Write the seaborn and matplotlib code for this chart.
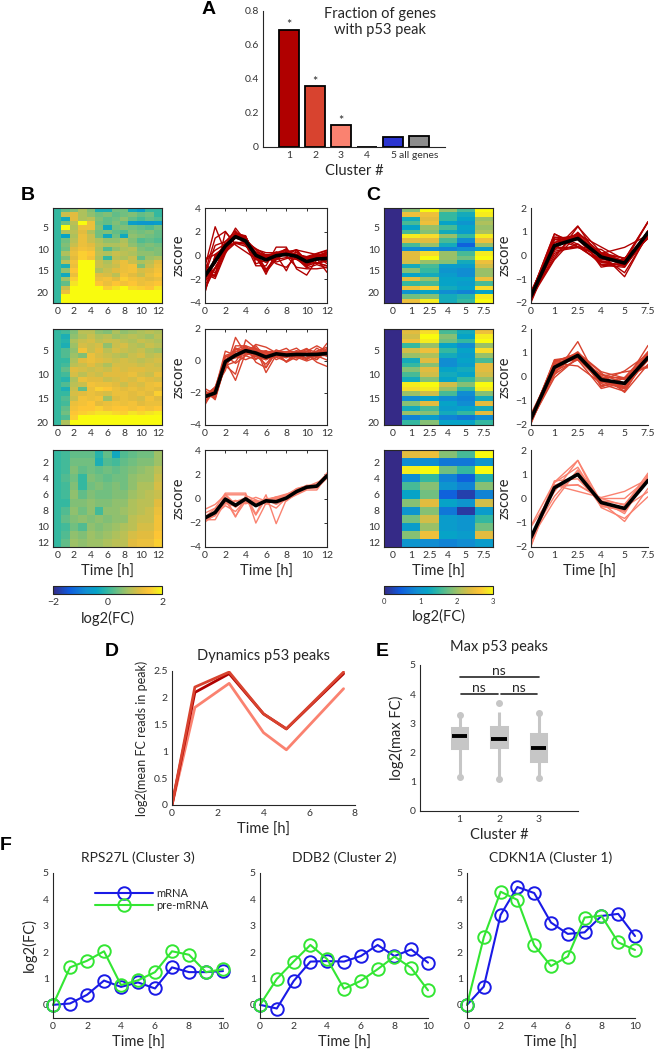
import numpy as np
import pandas as pd
import matplotlib
matplotlib.use("Agg")
import matplotlib.pyplot as plt
import seaborn as sns
from matplotlib.colors import LinearSegmentedColormap

# ---------------- data ----------------
# A: fraction of genes with p53 peak
frac_labels = ["1", "2", "3", "4", "5", "all genes"]
frac_values = [0.69, 0.36, 0.13, 0.0, 0.06, 0.065]
frac_signif = [True, True, True, False, False, False]

# B: log2(FC) per gene, time 0..12 h
b_times = [0, 1, 2, 3, 4, 5, 6, 7, 8, 9, 10, 11, 12]
b1_fc = [
    [0.0, 0.3, 0.5, 0.8, 0.5, -0.2, -0.2, 0.4, 0.4, -0.3, -0.5, 0.0, 0.0],
    [0.0, 1.0, 1.2, 0.8, 0.6, 0.4, 0.5, 0.3, 0.4, 0.5, 0.3, 0.4, 0.0],
    [0.0, -0.3, 1.2, 0.8, 0.9, 0.5, 0.3, 0.4, 0.6, 0.3, 0.1, 0.3, 0.2],
    [0.0, 0.4, 0.9, 2.2, 1.3, 0.4, 0.3, 0.5, 0.3, -0.5, -0.6, -0.6, -0.5],
    [0.0, 2.2, 0.8, 1.3, 1.3, 0.5, -0.3, 0.4, 0.5, 0.4, 0.3, 0.2, 0.4],
    [0.0, 0.8, 0.9, 1.2, 0.8, 0.4, 0.5, 0.3, 0.2, 0.5, 0.4, 0.5, 0.3],
    [0.0, -0.4, 0.8, 1.3, 1.0, 0.4, -0.3, 0.4, -0.3, 0.6, 0.5, 0.4, 0.3],
    [0.0, 0.4, 0.9, 1.3, 1.0, 0.8, 0.6, 0.6, 0.8, 0.5, 0.2, 0.3, 0.2],
    [0.0, 0.5, 1.0, 1.3, 1.2, 0.9, 0.8, 0.8, 0.9, 0.6, 0.4, 0.5, 0.4],
    [0.0, 0.4, 1.2, 1.4, 1.3, 0.8, 0.2, 0.6, 0.8, 0.9, 0.5, 0.4, 0.5],
    [0.0, 0.8, 1.3, 1.6, 1.5, 0.9, 0.8, 1.0, 0.9, 0.8, 0.6, 0.6, 0.5],
    [0.0, 0.5, 1.2, 1.6, 1.4, 0.8, 0.0, 0.9, 0.8, 1.0, 0.3, 0.7, 0.8],
    [0.0, 0.9, 1.4, 2.2, 2.0, 1.0, 0.8, 1.1, 1.3, 1.0, 0.8, 0.9, 1.2],
    [0.0, -0.2, 1.3, 2.3, 2.2, 1.0, 0.9, 1.0, 1.3, 1.4, 0.5, 1.0, 1.3],
    [0.0, 0.6, 1.5, 2.4, 2.3, 0.8, 1.0, 1.2, 1.3, 1.4, 1.1, 1.2, 1.4],
    [0.0, -0.3, 1.3, 2.5, 2.4, 1.2, 1.1, 0.9, 1.4, 1.2, 1.0, 1.3, 1.5],
    [0.0, 0.7, 1.6, 2.5, 2.3, 1.3, 1.4, 1.2, 1.6, 1.4, 1.3, 1.2, 1.3],
    [0.0, 0.3, 1.8, 2.6, 2.5, 1.5, 1.3, 1.5, 1.4, 1.5, 1.3, 1.4, 1.5],
    [0.0, 1.0, 2.2, 2.8, 2.6, 2.1, 1.6, 1.8, 2.1, 1.7, 1.6, 1.5, 1.8],
    [0.0, 1.3, 2.4, 2.9, 2.8, 2.3, 2.1, 2.2, 2.2, 2.1, 2.0, 2.2, 2.4],
    [0.0, 2.3, 2.8, 3.1, 3.0, 2.5, 2.3, 2.3, 2.4, 2.3, 2.2, 2.3, 2.4],
    [0.0, 2.4, 3.0, 3.2, 3.0, 2.5, 2.4, 2.5, 2.5, 2.4, 2.3, 2.4, 2.6],
]
b2_fc = [
    [0.0, 0.1, 0.5, 0.9, 0.9, 0.6, 0.5, 0.8, 0.6, 0.7, 0.8, 0.9, 0.8],
    [0.0, -0.2, 0.6, 0.8, 1.0, 0.8, 0.9, 0.7, 0.8, 0.9, 0.8, 0.7, 0.9],
    [0.0, -0.1, 0.8, 1.0, 1.1, 0.9, 1.0, 1.0, 0.9, 0.8, 1.0, 0.9, 0.8],
    [0.0, -0.2, 0.7, 1.1, 1.0, 1.1, 0.6, 1.0, 1.1, 0.9, 0.8, 1.0, 0.9],
    [0.0, 0.2, 0.6, 1.4, 1.0, 1.2, 0.9, 1.1, 1.0, 0.9, 1.0, 0.8, 0.7],
    [0.0, 0.2, 0.7, 0.5, 1.3, 1.1, 1.0, 0.9, 0.8, 1.0, 1.1, 0.9, 1.0],
    [0.0, 0.0, 0.8, 1.2, 1.3, 1.2, 1.1, 1.0, 1.1, 1.0, 0.9, 1.0, 1.1],
    [0.0, 0.1, 0.9, 1.0, 1.2, 1.0, 0.8, 1.1, 1.1, 1.1, 1.0, 1.1, 1.0],
    [0.0, 0.3, 1.2, 1.1, 1.0, 1.1, 1.0, 1.2, 1.1, 1.2, 1.2, 1.1, 1.1],
    [0.0, 0.1, 1.1, 0.9, 1.1, 1.0, 1.2, 1.2, 1.2, 1.3, 1.1, 1.0, 1.3],
    [0.0, -0.1, 0.8, 1.3, 1.2, 1.2, 1.0, 1.1, 1.2, 1.1, 1.3, 1.2, 1.1],
    [0.0, 0.2, 0.9, 1.0, 1.4, 1.3, 1.3, 1.2, 1.0, 1.2, 1.1, 1.3, 1.4],
    [0.0, -0.2, 1.0, 0.3, 1.3, 1.6, 1.5, 1.3, 1.2, 1.3, 1.2, 1.3, 1.2],
    [0.0, 0.0, 1.1, 1.2, 1.3, 1.2, 1.1, 1.3, 1.3, 1.2, 1.3, 1.2, 1.6],
    [0.0, 0.2, 1.0, 1.4, 1.3, 1.4, 0.7, 1.2, 1.3, 1.2, 1.1, 1.4, 1.2],
    [0.0, 0.1, 1.3, 1.4, 1.5, 1.2, 1.3, 1.4, 1.3, 1.4, 1.2, 1.3, 1.3],
    [0.0, 0.3, 1.4, 1.5, 1.5, 1.6, 1.4, 1.5, 1.5, 1.4, 1.5, 1.4, 1.5],
    [0.0, 0.4, 1.5, 1.6, 1.7, 1.8, 1.8, 1.7, 1.6, 1.8, 1.7, 1.8, 1.9],
    [0.0, 0.2, 1.6, 2.0, 2.2, 2.1, 2.0, 2.1, 2.0, 2.1, 2.2, 2.1, 2.2],
    [0.0, 0.8, 2.2, 2.3, 2.4, 2.2, 2.3, 2.2, 2.3, 2.2, 2.3, 2.4, 2.4],
]
b3_fc = [
    [0.0, 0.1, 0.3, 0.3, 0.3, -0.1, 0.3, -0.3, 0.2, 0.3, 0.4, 0.4, 0.7],
    [0.0, 0.1, 0.4, 0.4, 0.4, -0.2, 0.2, 0.1, 0.3, 0.4, 0.5, 0.5, 0.7],
    [0.0, 0.1, 0.5, 0.3, 0.4, 0.3, 0.4, 0.3, 0.4, 0.5, 0.6, 0.7, 0.9],
    [0.0, 0.2, 0.4, 0.0, 0.5, 0.4, 0.3, 0.4, 0.4, 0.6, 0.7, 0.7, 1.0],
    [0.0, 0.1, 0.5, 0.0, 0.4, 0.5, 0.4, 0.5, 0.4, 0.6, 0.8, 0.8, 1.1],
    [0.0, 0.1, 0.6, 0.3, 0.5, 0.4, 0.4, 0.5, 0.5, 0.7, 0.8, 0.9, 1.0],
    [0.0, 0.0, 0.5, 0.5, 0.6, 0.5, 0.5, 0.6, 0.6, 0.8, 0.9, 0.9, 1.2],
    [0.0, 0.2, 0.6, 0.4, 0.6, 0.1, 0.6, 0.6, 0.7, 0.8, 0.9, 1.0, 1.3],
    [0.0, 0.3, 0.5, 0.6, 0.5, 0.6, 0.5, 0.6, 0.6, 0.9, 1.0, 1.0, 1.4],
    [0.0, 0.1, 0.4, 0.2, 0.6, 0.5, 0.6, 0.7, 0.8, 0.9, 1.1, 1.1, 1.4],
    [0.0, 0.2, 0.6, 0.5, 0.7, 0.6, 0.7, 0.8, 0.9, 1.1, 1.2, 1.2, 1.5],
    [0.0, 0.3, 0.7, 0.6, 0.7, 0.7, 0.8, 0.9, 0.9, 1.2, 1.3, 1.3, 1.6],
]

# C: log2(FC) per gene, time 0, 1, 2.5, 4, 5, 7.5 h
c_times = ["0", "1", "2.5", "4", "5", "7.5"]
c1_fc = [
    [0, 1.9, 3.0, 2.0, 1.6, 3.0], [0, 2.5, 2.5, 1.5, 1.3, 2.9],
    [0, 1.3, 2.4, 1.5, 1.2, 2.0], [0, 1.6, 2.5, 1.2, 1.0, 2.1],
    [0, 1.2, 2.0, 1.6, 1.2, 2.0], [0, 1.6, 1.9, 1.3, 1.1, 2.1],
    [0, 2.9, 2.8, 2.0, 1.5, 2.9], [0, 2.4, 2.4, 1.6, 0.9, 2.5],
    [0, 1.6, 2.0, 1.3, 0.5, 2.0], [0, 0.9, 0.9, 0.8, 0.9, 1.1],
    [0, 2.4, 2.8, 2.0, 1.6, 2.9], [0, 2.4, 3.0, 2.0, 1.8, 3.0],
    [0, 2.3, 2.0, 1.9, 1.3, 2.5], [0, 1.3, 1.6, 1.1, 1.1, 2.3],
    [0, 1.9, 1.5, 1.0, 0.9, 2.0], [0, 1.2, 1.3, 1.1, 0.9, 2.0],
    [0, 2.4, 2.0, 1.2, 1.2, 2.5], [0, 1.5, 1.6, 1.2, 1.1, 1.6],
    [0, 2.5, 2.7, 1.3, 1.2, 2.8], [0, 1.0, 1.2, 0.9, 0.8, 1.2],
    [0, 1.8, 1.9, 1.3, 1.4, 2.9], [0, 2.5, 2.9, 1.3, 1.5, 3.0],
]
c2_fc = [
    [0, 2.4, 2.8, 1.6, 1.3, 2.5], [0, 2.3, 3.0, 1.9, 1.2, 2.9],
    [0, 2.5, 2.9, 1.8, 1.5, 3.0], [0, 1.5, 2.0, 1.2, 0.9, 2.0],
    [0, 2.3, 2.5, 1.5, 1.2, 2.8], [0, 2.0, 2.1, 1.3, 1.1, 2.0],
    [0, 1.3, 2.4, 0.9, 1.2, 1.6], [0, 1.5, 1.9, 0.9, 1.1, 2.4],
    [0, 1.9, 2.4, 1.2, 1.3, 2.4], [0, 1.6, 2.3, 1.3, 1.2, 2.3],
    [0, 1.3, 1.9, 1.2, 1.5, 2.0], [0, 2.9, 3.0, 2.3, 1.9, 3.0],
    [0, 2.8, 2.9, 2.0, 1.5, 2.9], [0, 2.0, 2.3, 1.6, 0.9, 1.9],
    [0, 0.9, 1.2, 0.9, 0.8, 1.3], [0, 1.9, 2.4, 1.2, 0.9, 2.4],
    [0, 1.3, 1.6, 1.1, 1.2, 1.3], [0, 2.0, 1.9, 1.3, 1.5, 2.4],
    [0, 0.8, 1.1, 0.8, 0.7, 0.9], [0, 1.5, 1.9, 1.2, 1.2, 1.5],
]
c3_fc = [
    [0, 2.4, 2.5, 1.9, 1.6, 3.0], [0, 0.9, 0.9, 0.7, 0.7, 1.0],
    [0, 2.9, 3.0, 1.8, 1.5, 3.0], [0, 0.9, 1.5, 0.8, 0.5, 1.4],
    [0, 1.6, 1.9, 1.0, 0.8, 1.9], [0, 1.2, 1.8, 0.5, 0.2, 0.8],
    [0, 1.9, 2.4, 1.2, 1.0, 2.3], [0, 1.0, 1.9, 0.7, 0.15, 1.1],
    [0, 1.8, 2.3, 1.1, 1.0, 1.5], [0, 1.1, 2.0, 1.1, 1.0, 1.8],
    [0, 1.9, 2.5, 1.2, 1.1, 2.4], [0, 1.0, 0.9, 0.8, 0.9, 1.1],
]

# D: mean FC of p53 peaks per cluster
dyn_times = [0, 1, 2.5, 4, 5, 7.5]
dyn_c1 = [0, 2.1, 2.45, 1.7, 1.42, 2.45]
dyn_c2 = [0, 2.2, 2.48, 1.7, 1.42, 2.48]
dyn_c3 = [0, 1.82, 2.27, 1.35, 1.03, 2.17]

# E: max p53 peaks
peak_clusters = ["1", "2", "3"]
peak_c1 = [1.18, 1.9, 2.17, 2.4, 2.58, 2.7, 2.83, 3.0, 3.3]
peak_c2 = [1.1, 1.9, 2.2, 2.35, 2.46, 2.6, 2.87, 3.1, 3.4]
peak_c3 = [1.13, 1.5, 1.7, 1.95, 2.17, 2.4, 2.63, 2.9, 3.37]
dot_clusters = ["1", "1", "2", "2", "3", "3"]
dot_values = [1.18, 3.3, 1.1, 3.7, 1.13, 3.37]

# F: single genes
f_times = [0, 1, 2, 3, 4, 5, 6, 7, 8, 9, 10]
f_genes = ["RPS27L (Cluster 3)", "DDB2 (Cluster 2)", "CDKN1A (Cluster 1)"]
rps27l_mrna = [0, 0.05, 0.38, 0.92, 0.68, 0.85, 0.62, 1.42, 1.24, 1.24, 1.28]
rps27l_pre = [0, 1.42, 1.67, 2.03, 0.75, 0.93, 1.24, 2.03, 1.9, 1.24, 1.35]
ddb2_mrna = [0, -0.14, 0.9, 1.64, 1.66, 1.64, 1.85, 2.27, 1.85, 2.1, 1.6]
ddb2_pre = [0, 0.98, 1.64, 2.27, 1.73, 0.61, 0.91, 1.35, 1.83, 1.4, 0.55]
cdkn1a_mrna = [0, 0.69, 3.41, 4.47, 4.24, 3.12, 2.69, 2.75, 3.37, 3.45, 2.61]
cdkn1a_pre = [0, 2.56, 4.29, 3.98, 2.26, 1.47, 1.83, 3.31, 3.38, 2.37, 2.08]

# ---------------- style ----------------
sns.set_theme(style="white")
plt.rcParams["font.family"] = ["Lato", "DejaVu Sans"]
plt.rcParams.update({
    "axes.edgecolor": "#262626", "axes.linewidth": 0.8,
    "xtick.color": "#333333", "ytick.color": "#333333",
    "xtick.direction": "in", "ytick.direction": "in",
    "xtick.major.size": 2.2, "ytick.major.size": 2.2,
    "xtick.major.width": 0.7, "ytick.major.width": 0.7,
    "xtick.major.pad": 3, "ytick.major.pad": 3,
    "xtick.labelsize": 7.5, "ytick.labelsize": 7.5,
    "axes.labelsize": 10.5, "axes.labelcolor": "#262626",
    "text.color": "#262626",
})
LAB = 10.5
TTL = 10.5

parula = LinearSegmentedColormap.from_list("parula", [
    (0.00, (0.208, 0.166, 0.529)), (0.15, (0.059, 0.360, 0.868)),
    (0.30, (0.064, 0.557, 0.824)), (0.40, (0.024, 0.640, 0.780)),
    (0.50, (0.199, 0.721, 0.631)), (0.60, (0.442, 0.748, 0.503)),
    (0.70, (0.680, 0.758, 0.363)), (0.80, (0.886, 0.739, 0.248)),
    (0.88, (0.993, 0.774, 0.209)), (0.95, (0.961, 0.889, 0.154)),
    (1.00, (0.976, 0.983, 0.054)),
])
clu_colors = ["#B00000", "#D8432F", "#FA8270"]
bar_colors = ["#B00000", "#D8432F", "#FA8270", "#FFFFFF", "#2A34D0", "#8C8C8C"]

W, H = 657, 1050
fig = plt.figure(figsize=(W / 100, H / 100), dpi=100)


def add_ax(l, t, r, b):
    return fig.add_axes([l / W, 1 - b / H, (r - l) / W, (b - t) / H])


def letter(x, y, s):
    fig.text(x / W, 1 - y / H, s, fontsize=14, fontweight="bold",
             family="Liberation Sans", ha="center", va="center", color="black")


def zscore_df(mat, xs):
    m = np.asarray(mat, dtype=float)
    z = (m - m.mean(axis=1, keepdims=True)) / m.std(axis=1, ddof=1, keepdims=True)
    df = pd.DataFrame(z, columns=xs).rename_axis("gene").reset_index()
    df = df.melt(id_vars="gene", var_name="time", value_name="z")
    df["time"] = df["time"].astype(float)
    return df


# ---------------- A ----------------
ax = add_ax(263, 11, 445, 147)
sns.barplot(x=frac_labels, y=frac_values, hue=frac_labels, palette=bar_colors,
            legend=False, edgecolor="black", linewidth=1.3, width=0.8,
            saturation=1, ax=ax)
for i, (v, s) in enumerate(zip(frac_values, frac_signif)):
    if s:
        ax.text(i, v - 0.01, "*", ha="center", va="bottom", fontsize=9)
ax.set_xlim(-1, 6)
ax.set_ylim(0, 0.8)
ax.set_yticks([0, 0.2, 0.4, 0.6, 0.8], ["0", "0.2", "0.4", "0.6", "0.8"])
ax.tick_params(axis="x", length=0)
ax.set_xlabel("Cluster #", labelpad=3)
sns.despine(ax=ax)
ax.text(0.643, 0.92, "Fraction of genes\nwith p53 peak", transform=ax.transAxes,
        ha="center", va="center", fontsize=TTL, linespacing=1.15)
letter(209, 10, "A")

# ---------------- B and C ----------------
tops = [208, 329, 450]
bots = [303, 425, 547]
b_mats = [b1_fc, b2_fc, b3_fc]
c_mats = [c1_fc, c2_fc, c3_fc]
b_yt = [[5, 10, 15, 20], [5, 10, 15, 20], [2, 4, 6, 8, 10, 12]]
c_yt = [[5, 10, 15, 20], [5, 10, 15, 20], [2, 4, 6, 8, 10, 12]]
b_ylims = [(-4, 4), (-4, 2), (-4, 4)]


def heat(ax, mat, vmin, vmax, xt_pos, xt_lab, yt):
    sns.heatmap(np.asarray(mat, dtype=float), ax=ax, cmap=parula, vmin=vmin,
                vmax=vmax, cbar=False, xticklabels=False, yticklabels=False)
    ax.set_xticks([p + 0.5 for p in xt_pos], xt_lab, rotation=0)
    ax.set_yticks([v - 0.5 for v in yt], [str(v) for v in yt], rotation=0)
    for s in ax.spines.values():
        s.set_visible(True)
        s.set_color("#262626")
        s.set_linewidth(0.8)
    ax.tick_params(direction="in", top=True, right=True, length=1.8,
                   labelsize=7.5, pad=3)
    return ax.collections[0]


for k in range(3):
    # B heatmap
    ax = add_ax(53, tops[k], 162, bots[k])
    mb = heat(ax, b_mats[k], -2, 2, list(range(0, 13, 2)),
              [str(t) for t in range(0, 13, 2)], b_yt[k])
    if k == 2:
        ax.set_xlabel("Time [h]", labelpad=3)
    # B traces
    ax = add_ax(205, tops[k], 327, bots[k])
    df = zscore_df(b_mats[k], b_times)
    sns.lineplot(data=df, x="time", y="z", units="gene", estimator=None,
                 color=clu_colors[k], lw=1.0, ax=ax)
    sns.lineplot(data=df, x="time", y="z", errorbar=None, color="black",
                 lw=2.6, ax=ax)
    ax.set_xlim(0, 12)
    ax.set_ylim(*b_ylims[k])
    lo, hi = b_ylims[k]
    ax.set_yticks(list(range(lo, hi + 1, 2)))
    ax.set_xticks(list(range(0, 13, 2)))
    ax.tick_params(top=True, right=True)
    ax.set_ylabel("zscore", labelpad=2)
    ax.set_xlabel("Time [h]" if k == 2 else "", labelpad=3)

    # C heatmap
    ax = add_ax(384, tops[k], 493, bots[k])
    mc = heat(ax, c_mats[k], 0, 3, list(range(6)), c_times, c_yt[k])
    if k == 2:
        ax.set_xlabel("Time [h]", labelpad=3)
    # C traces
    ax = add_ax(531, tops[k], 648, bots[k])
    df = zscore_df(c_mats[k], list(range(6)))
    sns.lineplot(data=df, x="time", y="z", units="gene", estimator=None,
                 color=clu_colors[k], lw=1.0, ax=ax)
    sns.lineplot(data=df, x="time", y="z", errorbar=None, color="black",
                 lw=2.6, ax=ax)
    ax.set_xlim(0, 5)
    ax.set_ylim(-2, 2)
    ax.set_yticks([-2, -1, 0, 1, 2])
    ax.set_xticks(list(range(6)), c_times)
    sns.despine(ax=ax)
    ax.set_ylabel("zscore", labelpad=2)
    ax.set_xlabel("Time [h]" if k == 2 else "", labelpad=3)

# colorbars
cax = add_ax(53, 586, 162, 594)
cb = fig.colorbar(mb, cax=cax, orientation="horizontal", ticks=[-2, 0, 2])
cb.ax.tick_params(direction="in", length=2, labelsize=7.5, pad=3)
cb.outline.set_linewidth(0.8)
cb.set_label("log2(FC)", fontsize=LAB, labelpad=3)
cax = add_ax(384, 586, 493, 594)
cb = fig.colorbar(mc, cax=cax, orientation="horizontal", ticks=[0, 1, 2, 3])
cb.ax.tick_params(direction="in", length=2, labelsize=5.5, pad=3)
cb.outline.set_linewidth(0.8)
cb.set_label("log2(FC)", fontsize=LAB, labelpad=3)

letter(28, 196, "B")
letter(373, 196, "C")

# ---------------- D ----------------
ax = add_ax(172, 671, 355, 805)
for vals, c in zip([dyn_c3, dyn_c1, dyn_c2], [clu_colors[2], clu_colors[0], clu_colors[1]]):
    sns.lineplot(x=dyn_times, y=vals, color=c, lw=2.0, ax=ax)
ax.set_xlim(0, 8)
ax.set_ylim(0, 2.5)
ax.set_xticks([0, 2, 4, 6, 8])
ax.set_yticks([0, 0.5, 1, 1.5, 2, 2.5], ["0", "0.5", "1", "1.5", "2", "2.5"])
sns.despine(ax=ax)
ax.set_xlabel("Time [h]", labelpad=3)
ax.set_ylabel("log2(mean FC reads in peak)", fontsize=9, labelpad=4)
ax.set_title("Dynamics p53 peaks", fontsize=TTL, pad=8)
letter(112, 652, "D")

# ---------------- E ----------------
ax = add_ax(420, 665, 578, 811)
peak_df = pd.DataFrame({
    "cluster": [c for c, v in zip(peak_clusters, [peak_c1, peak_c2, peak_c3]) for _ in v],
    "val": peak_c1 + peak_c2 + peak_c3,
})
grey = "#C6C6C6"
sns.boxplot(data=peak_df, x="cluster", y="val", whis=(0, 100), width=0.38,
            showfliers=False, showcaps=False, color=grey, linecolor=grey,
            linewidth=2.2, saturation=1,
            medianprops=dict(color="black", linewidth=2.8), ax=ax)
dot_pos = [peak_clusters.index(c) for c in dot_clusters]
ax.plot(dot_pos, dot_values, "o", color=grey, ms=4, zorder=3)
ax.set_xlim(-1, 3)
ax.set_ylim(0, 5)
ax.set_yticks([0, 1, 2, 3, 4, 5])
sns.despine(ax=ax)
ax.set_xlabel("Cluster #", labelpad=3)
ax.set_ylabel("log2(max FC)", labelpad=4)
ax.set_title("Max p53 peaks", fontsize=TTL, pad=10)
for x0, x1, y in [(0, 2, 4.6), (0.03, 0.97, 4.0), (1.05, 1.97, 4.0)]:
    ax.plot([x0, x1], [y, y], color="#262626", lw=1.2)
    ax.text((x0 + x1) / 2, y + 0.0, "ns", ha="center", va="bottom", fontsize=10)
letter(382, 652, "E")

# ---------------- F ----------------
f_lefts = [53, 260, 467]
f_rights = [223, 428, 635]
f_mrna = [rps27l_mrna, ddb2_mrna, cdkn1a_mrna]
f_pre = [rps27l_pre, ddb2_pre, cdkn1a_pre]
blue, green = "#1A1AE6", "#33E633"
for k in range(3):
    ax = add_ax(f_lefts[k], 873, f_rights[k], 1018)
    for vals, c, lab in [(f_mrna[k], blue, "mRNA"), (f_pre[k], green, "pre-mRNA")]:
        sns.lineplot(x=f_times, y=vals, color=c, lw=1.5, marker="o",
                     markersize=9, markerfacecolor="none", markeredgecolor=c,
                     markeredgewidth=1.4, label=lab, legend=False,
                     clip_on=False, ax=ax)
    ax.set_xlim(0, 10)
    ax.set_ylim(-0.5, 5)
    ax.set_xticks([0, 2, 4, 6, 8, 10])
    ax.set_yticks([0, 1, 2, 3, 4, 5])
    sns.despine(ax=ax)
    ax.set_xlabel("Time [h]", labelpad=3)
    ax.set_title(f_genes[k], fontsize=10, pad=8)
    if k == 0:
        ax.set_ylabel("log2(FC)", labelpad=4)
        ax.legend(loc="upper left", bbox_to_anchor=(0.22, 0.93), frameon=False,
                  fontsize=8, handlelength=5.2, handletextpad=0.3,
                  labelspacing=0.1, borderaxespad=0)
letter(6, 845, "F")

fig.savefig("out.png", dpi=100)
